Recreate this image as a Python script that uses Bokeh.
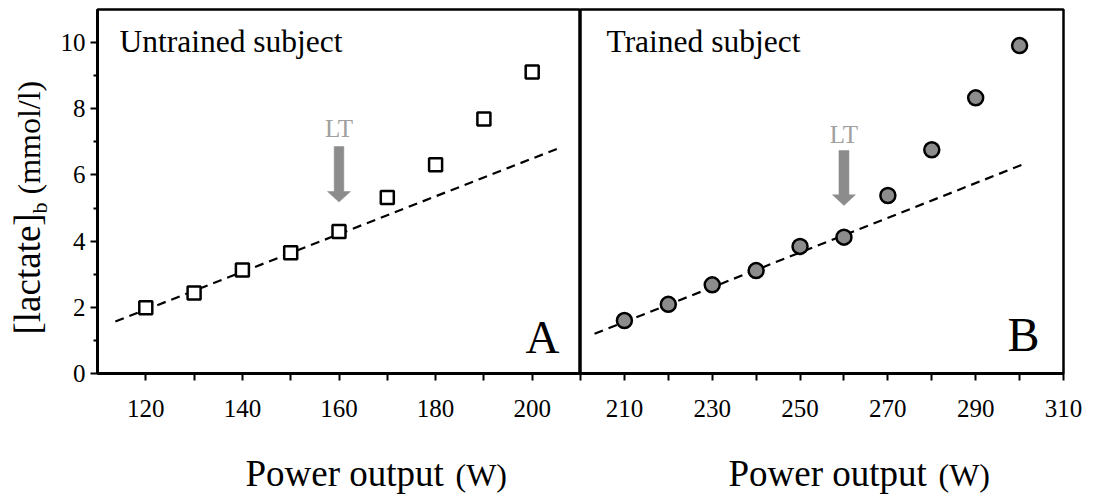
import math
from bokeh.plotting import figure
from bokeh.models import Range1d, FixedTicker, Label
from bokeh.layouts import row, column
from bokeh.embed import file_html
from bokeh.resources import INLINE
from bokeh.core.properties import value

# ---------------- data ----------------
untrained_power = [120, 130, 140, 150, 160, 170, 180, 190, 200]
untrained_lactate = [1.99, 2.43, 3.13, 3.65, 4.29, 5.32, 6.31, 7.69, 9.11]
trained_power = [210, 220, 230, 240, 250, 260, 270, 280, 290, 300]
trained_lactate = [1.60, 2.09, 2.68, 3.11, 3.84, 4.12, 5.38, 6.76, 8.33, 9.91]

untrained_fit_power = [113.7, 205.5]
untrained_fit_lactate = [1.57, 6.81]
trained_fit_power = [203.2, 300.8]
trained_fit_lactate = [1.20, 6.32]

untrained_lt_power = 160
trained_lt_power = 260

y_ticks = [0, 2, 4, 6, 8, 10]
y_minor_ticks = [1, 3, 5, 7, 9]
untrained_x_ticks = [120, 140, 160, 180, 200]
untrained_x_minor = [130, 150, 170, 190, 210]
trained_x_ticks = [210, 230, 250, 270, 290, 310]
trained_x_minor = [200, 220, 240, 260, 280, 300]

FONT = "Liberation Serif"
FRAME_H = 364
TOP = 9
BOTTOM = 60
YLAB_W = 55
XLAB_H = 64
TOTAL_W = 1093


def style(p):
    p.outline_line_color = "black"
    p.outline_line_width = 2.5
    p.outline_line_alpha = 1
    p.xgrid.visible = False
    p.ygrid.visible = False
    p.background_fill_color = "white"
    p.border_fill_color = "white"
    for ax in p.xaxis:
        ax.axis_line_width = 3
        ax.major_tick_line_width = 2
        ax.minor_tick_line_width = 2
        ax.major_tick_out = 7
        ax.major_tick_in = 0
        ax.minor_tick_out = 7
        ax.minor_tick_in = 0
        ax.major_label_text_font = FONT
        ax.major_label_text_font_size = "25px"
        ax.major_label_text_color = "black"
        ax.major_label_standoff = 19


def lbl(p, x, y, text, size, align="left", angle=0.0, color="black"):
    p.add_layout(Label(x=x, y=y, text=text, text_font=FONT, text_font_size=size,
                       text_align=align, text_baseline="alphabetic", angle=angle,
                       text_color=color))


def arrow(p, xc, top, base, tip, shaft_hw, head_hw, color="#8c8c8c"):
    xs = [xc - shaft_hw, xc + shaft_hw, xc + shaft_hw, xc + head_hw, xc,
          xc - head_hw, xc - shaft_hw]
    ys = [top, top, base, base, tip, base, base]
    p.patch(xs, ys, fill_color=color, line_color=color, line_width=0.5)


def blank(w, h):
    f = figure(frame_width=w, frame_height=h, x_range=Range1d(0, w), y_range=Range1d(0, h),
               output_backend="svg", toolbar_location=None, x_axis_location=None,
               y_axis_location=None, min_border=0)
    f.min_border_left = 0
    f.min_border_right = 0
    f.min_border_top = 0
    f.min_border_bottom = 0
    f.outline_line_color = None
    f.xgrid.visible = False
    f.ygrid.visible = False
    return f


def txt(f, x, y, text, size, angle=0.0):
    f.text(x=[x], y=[y], text=[text], text_font=value(FONT), text_font_size=value(size),
           text_align="left", text_baseline="alphabetic", angle=angle, text_color="black")


# ---------------- left panel ----------------
p1 = figure(frame_width=483, frame_height=FRAME_H, x_range=Range1d(110, 210),
            y_range=Range1d(0, 11), output_backend="svg", toolbar_location=None,
            min_border_left=97 - YLAB_W, min_border_right=0, min_border_top=TOP,
            min_border_bottom=BOTTOM)
style(p1)
p1.xaxis.ticker = FixedTicker(ticks=untrained_x_ticks, minor_ticks=untrained_x_minor)
p1.yaxis.ticker = FixedTicker(ticks=y_ticks, minor_ticks=y_minor_ticks)
ya = p1.yaxis[0]
ya.axis_line_width = 3
ya.major_tick_line_width = 2
ya.minor_tick_line_width = 2
ya.major_tick_out = 7
ya.major_tick_in = 0
ya.minor_tick_out = 4
ya.minor_tick_in = 0
ya.major_label_text_font = FONT
ya.major_label_text_font_size = "25px"
ya.major_label_text_color = "black"
ya.major_label_standoff = 5

p1.line(untrained_fit_power, untrained_fit_lactate, line_color="black",
        line_width=2.2, line_dash="9 6")
p1.scatter(untrained_power, untrained_lactate, marker="square", size=13,
           fill_color="white", line_color="black", line_width=2.5)
arrow(p1, untrained_lt_power, 6.86, 5.50, 5.18, 1.0, 2.38)
lbl(p1, untrained_lt_power, 7.39, "LT", "25px", align="center", color="#a0a0a0")
lbl(p1, 114.55, 10.02, "Untrained subject", "31.5px")
lbl(p1, 205.65, 1.11, "A", "47px", align="right")

# ---------------- right panel ----------------
p2 = figure(frame_width=483, frame_height=FRAME_H, x_range=Range1d(200, 310),
            y_range=Range1d(0, 11), output_backend="svg", toolbar_location=None,
            y_axis_location=None, min_border_left=0, min_border_right=30,
            min_border_top=TOP, min_border_bottom=BOTTOM)
style(p2)
p2.xaxis.ticker = FixedTicker(ticks=trained_x_ticks, minor_ticks=trained_x_minor)

p2.line(trained_fit_power, trained_fit_lactate, line_color="black",
        line_width=2.2, line_dash="9 6")
p2.scatter(trained_power, trained_lactate, marker="circle", size=15,
           fill_color="#8c8c8c", line_color="black", line_width=2.5)
arrow(p2, trained_lt_power, 6.74, 5.40, 5.08, 1.14, 2.62)
lbl(p2, trained_lt_power, 7.23, "LT", "25px", align="center", color="#a0a0a0")
lbl(p2, 205.92, 10.02, "Trained subject", "31.5px")
lbl(p2, 304.53, 1.19, "B", "48px", align="right")

# ---------------- axis titles ----------------
PANEL_H = TOP + FRAME_H + BOTTOM
yfig = blank(YLAB_W, PANEL_H)
txt(yfig, 27, 108, "[lactate]", "37px", angle=math.pi / 2)
txt(yfig, 38.6, 229, "b", "22px", angle=math.pi / 2)
txt(yfig, 28.8, 248, "(mmol/l)", "32px", angle=math.pi / 2)

xfig = blank(TOTAL_W, XLAB_H)
txt(xfig, 245, 24, "Power output", "37px")
txt(xfig, 455, 22.2, "(W)", "32px")
txt(xfig, 728, 24, "Power output", "37px")
txt(xfig, 938, 22.2, "(W)", "32px")

layout = column(row(yfig, p1, p2), xfig)
open("out.html", "w").write(file_html(layout, INLINE))
